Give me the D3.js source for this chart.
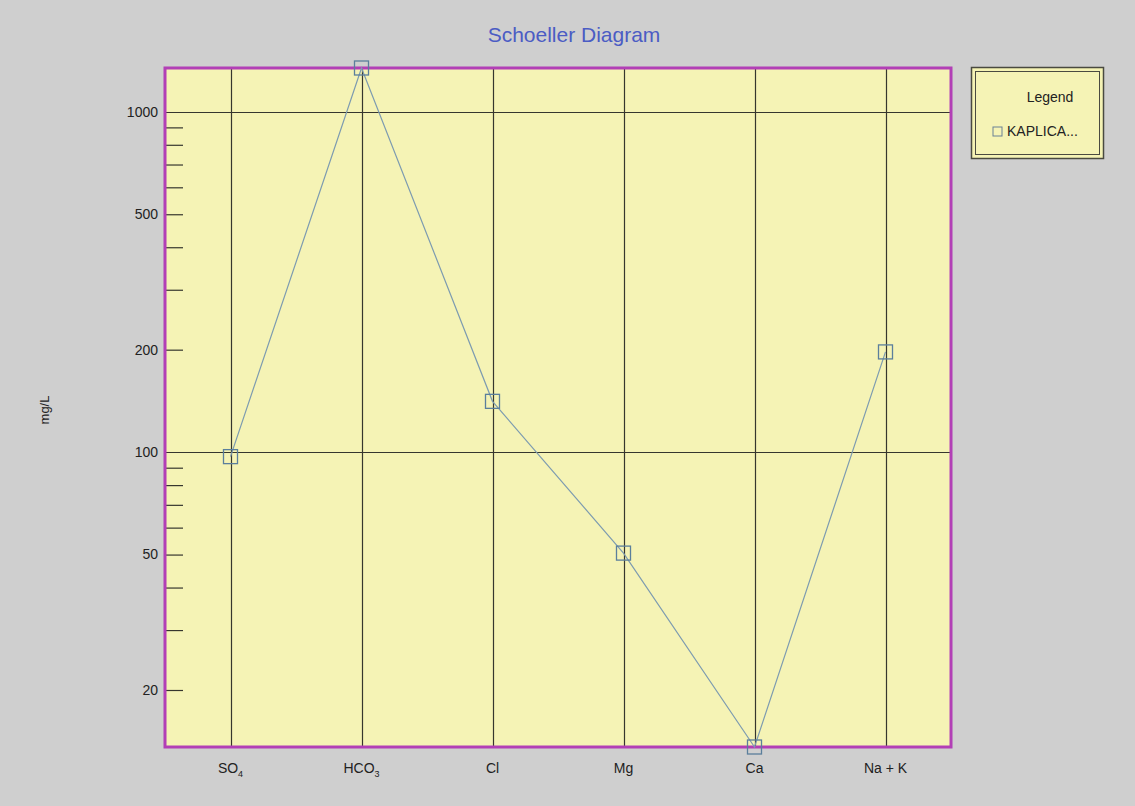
<!DOCTYPE html>
<html>
<head>
<meta charset="utf-8">
<script src="https://cdn.jsdelivr.net/npm/d3@7"></script>
<style>
  html, body { margin: 0; padding: 0; background: #cfcfcf; }
  svg { display: block; font-family: Arial, "Liberation Sans", sans-serif; }
</style>
</head>
<body>
<svg id="chart" width="1135" height="806"></svg>
<script>
// Ion names (main part + subscript) along the x axis
const ions = ["SO4", "HCO3", "Cl", "Mg", "Ca", "Na + K"];
const ionMain = ["SO", "HCO", "Cl", "Mg", "Ca", "Na + K"];
const ionSub = ["4", "3", "", "", "", ""];

// Sample concentrations, mg/L
const sampleName = "KAPLICA...";
const sampleValues = [97, 1345, 141, 50.5, 13.6, 197];

// Log axis ticks
const labeledTicks = [20, 50, 100, 200, 500, 1000];
const minorTicks = [20, 30, 40, 50, 60, 70, 80, 90, 200, 300, 400, 500, 600, 700, 800, 900];
const gridValues = [100, 1000];

const svg = d3.select("#chart");
const plot = { left: 165, right: 951, top: 68, bottom: 747 };

const x = d3.scalePoint().domain(ions).range([plot.left, plot.right]).padding(0.5);
const y = d3.scaleLog().domain(d3.extent(sampleValues)).range([plot.bottom, plot.top]);

// Title
svg.append("text")
  .attr("x", 574).attr("y", 42)
  .attr("text-anchor", "middle")
  .attr("font-size", 21)
  .attr("fill", "#4b5cc4")
  .text("Schoeller Diagram");

// Plot background
svg.append("rect")
  .attr("x", plot.left).attr("y", plot.top)
  .attr("width", plot.right - plot.left).attr("height", plot.bottom - plot.top)
  .attr("fill", "#f5f3b5");

// Vertical grid lines at each ion
svg.append("g").selectAll("line").data(ions).join("line")
  .attr("x1", d => Math.round(x(d)) + 0.5).attr("x2", d => Math.round(x(d)) + 0.5)
  .attr("y1", plot.top).attr("y2", plot.bottom)
  .attr("stroke", "#36362e").attr("stroke-width", 1.2);

// Horizontal grid lines at decades
svg.append("g").selectAll("line").data(gridValues).join("line")
  .attr("x1", plot.left).attr("x2", plot.right)
  .attr("y1", d => Math.round(y(d)) + 0.5).attr("y2", d => Math.round(y(d)) + 0.5)
  .attr("stroke", "#36362e").attr("stroke-width", 1.2);

// Minor ticks drawn inward from the left edge
const yAxis = d3.axisRight(y).tickValues(minorTicks).tickSize(18).tickFormat("");
const yAxisG = svg.append("g").attr("transform", `translate(${plot.left},0)`).call(yAxis);
yAxisG.select(".domain").remove();
yAxisG.selectAll(".tick line").attr("stroke", "#36362e").attr("stroke-width", 1.2);

// Tick labels
svg.append("g").selectAll("text").data(labeledTicks).join("text")
  .attr("x", plot.left - 7)
  .attr("y", d => y(d))
  .attr("dy", "0.35em")
  .attr("text-anchor", "end")
  .attr("font-size", 14)
  .attr("fill", "#222")
  .text(d => d);

// Y axis title
svg.append("text")
  .attr("transform", "translate(49,410) rotate(-90)")
  .attr("text-anchor", "middle")
  .attr("font-size", 13)
  .attr("fill", "#222")
  .text("mg/L");

// Plot frame
svg.append("rect")
  .attr("x", plot.left).attr("y", plot.top)
  .attr("width", plot.right - plot.left).attr("height", plot.bottom - plot.top)
  .attr("fill", "none")
  .attr("stroke", "#b23fb6").attr("stroke-width", 3);

// X labels with subscripts
const xl = svg.append("g").selectAll("text").data(ions).join("text")
  .attr("x", d => x(d))
  .attr("y", 773)
  .attr("text-anchor", "middle")
  .attr("font-size", 14)
  .attr("fill", "#222");
xl.append("tspan").text((d, i) => ionMain[i]);
xl.append("tspan")
  .attr("font-size", 9)
  .attr("dy", 4)
  .text((d, i) => ionSub[i]);

// Sample line
const pts = ions.map((d, i) => [x(d), y(sampleValues[i])]);
svg.append("path")
  .attr("d", d3.line()(pts))
  .attr("fill", "none")
  .attr("stroke", "#7d9bb0")
  .attr("stroke-width", 1.2);

// Square markers
const ms = 14;
svg.append("g").selectAll("rect").data(pts).join("rect")
  .attr("x", d => d[0] - ms / 2).attr("y", d => d[1] - ms / 2)
  .attr("width", ms).attr("height", ms)
  .attr("fill", "none")
  .attr("stroke", "#5b7f9c")
  .attr("stroke-width", 1.3);

// Legend box with double frame
const lg = svg.append("g");
lg.append("rect")
  .attr("x", 971.5).attr("y", 67.5).attr("width", 132).attr("height", 91)
  .attr("fill", "#f5f3b5").attr("stroke", "#4a4a40").attr("stroke-width", 1.5);
lg.append("rect")
  .attr("x", 975.5).attr("y", 71.5).attr("width", 124).attr("height", 83)
  .attr("fill", "none").attr("stroke", "#4a4a40").attr("stroke-width", 1);
lg.append("text")
  .attr("x", 1050).attr("y", 102)
  .attr("text-anchor", "middle")
  .attr("font-size", 14).attr("fill", "#222")
  .text("Legend");
lg.append("rect")
  .attr("x", 993).attr("y", 127).attr("width", 9).attr("height", 9)
  .attr("fill", "none").attr("stroke", "#6a8196").attr("stroke-width", 1);
lg.append("text")
  .attr("x", 1007).attr("y", 136)
  .attr("font-size", 14).attr("fill", "#222")
  .text(sampleName);
</script>
</body>
</html>
